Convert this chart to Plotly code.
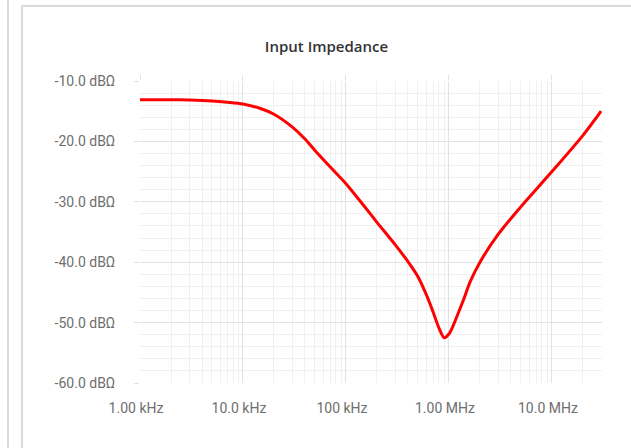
import plotly.graph_objects as go

# Input impedance magnitude vs frequency
freq_hz = [1e3, 2e3, 3e3, 5e3, 7e3, 1e4, 1.5e4, 2e4, 3e4, 4e4, 5e4, 7e4,
           1e5, 1.5e5, 2e5, 3e5, 4e5, 5e5, 6e5, 7e5, 8e5, 9e5, 1e6, 1.1e6,
           1.2e6, 1.4e6, 1.6e6, 2e6, 3e6, 5e6, 1e7, 2e7, 3e7]
impedance_db = [-13.1, -13.1, -13.15, -13.3, -13.5, -13.8, -14.6, -15.5, -17.6, -19.6,
                -21.5, -24.2, -27.0, -30.7, -33.4, -37.1, -39.9, -42.4, -45.3, -48.2,
                -50.9, -52.5, -51.9, -50.5, -48.9, -46.0, -43.3, -40.0, -35.4, -30.8,
                -25.0, -19.0, -15.0]

x_tick_vals = [1e3, 1e4, 1e5, 1e6, 1e7]
x_tick_text = ["1.00 kHz", "10.0 kHz", "100 kHz", "1.00 MHz", "10.0 MHz"]
y_tick_vals = [-10, -20, -30, -40, -50, -60]
y_tick_text = [f"{v:.1f} dBΩ" for v in y_tick_vals]

W, H = 631, 448
L, R, T, B = 140, 29, 81, 65
X_RANGE = [3, 7.486]
Y_RANGE = [-60, -10]

x_minor = [m * 10 ** d for d in range(3, 8) for m in range(2, 10) if m * 10 ** d < 10 ** X_RANGE[1]]
y_minor = list(range(-60, -9, 2))

MAJOR_GRID = "#e2e2e2"
MINOR_GRID = "#f0f0f0"
TICK_FONT = dict(family="Roboto, sans-serif", size=14, color="#6e6e6e")

fig = go.Figure()
fig.add_trace(go.Scatter(
    x=freq_hz, y=impedance_db, mode="lines",
    line=dict(color="#ff0000", width=3, shape="spline", smoothing=0.8),
    hoverinfo="x+y", showlegend=False,
))
# invisible trace that carries the top axis (major tick stubs above the plot)
fig.add_trace(go.Scatter(x=[freq_hz[0]], y=[impedance_db[0]], xaxis="x2",
                         mode="markers", marker=dict(opacity=0), showlegend=False,
                         hoverinfo="skip"))


def px_x(px):
    return (px - L) / (W - L - R)


def px_y(py):
    return 1 - (py - T) / (H - T - B)


frame_color = "#dadada"
fig.update_layout(
    width=W, height=H,
    margin=dict(l=L, r=R, t=T, b=B, pad=0),
    paper_bgcolor="white", plot_bgcolor="white",
    title=dict(text="Input Impedance", x=326.5 / W, xref="container", xanchor="center",
               y=1 - 46.5 / H, yref="container", yanchor="middle",
               font=dict(family="Open Sans, sans-serif", size=15, color="#333333", weight=600)),
    xaxis=dict(
        type="log", range=X_RANGE,
        tickvals=x_tick_vals, ticktext=x_tick_text,
        showgrid=True, gridcolor=MAJOR_GRID, gridwidth=1,
        ticks="", showline=False, zeroline=False,
        tickfont=TICK_FONT, ticklabelstandoff=15, ticklabelshift=-4,
        minor=dict(tickmode="array", tickvals=x_minor, showgrid=True,
                   gridcolor=MINOR_GRID, gridwidth=1, ticks=""),
    ),
    xaxis2=dict(
        type="log", range=X_RANGE, overlaying="x", side="top",
        tickvals=x_tick_vals, showticklabels=False,
        ticks="outside", ticklen=5, tickcolor=MAJOR_GRID, tickwidth=1,
        showgrid=False, showline=False, zeroline=False,
    ),
    yaxis=dict(
        range=Y_RANGE, tickvals=y_tick_vals, ticktext=y_tick_text,
        showgrid=True, gridcolor=MAJOR_GRID, gridwidth=1,
        ticks="outside", ticklen=5, tickcolor=MAJOR_GRID, tickwidth=1,
        showline=False, zeroline=False,
        tickfont=TICK_FONT, ticklabelstandoff=16,
        minor=dict(tickmode="array", tickvals=y_minor, showgrid=True,
                   gridcolor=MINOR_GRID, gridwidth=1, ticks=""),
    ),
    shapes=[
        # sidebar edge on the far left
        dict(type="line", xref="paper", yref="paper", x0=px_x(8), x1=px_x(8),
             y0=px_y(0), y1=px_y(H), line=dict(color=frame_color, width=2), layer="below"),
        # card border: left and top edges
        dict(type="line", xref="paper", yref="paper", x0=px_x(22), x1=px_x(22),
             y0=px_y(6), y1=px_y(H), line=dict(color=frame_color, width=2), layer="below"),
        dict(type="line", xref="paper", yref="paper", x0=px_x(21), x1=px_x(W),
             y0=px_y(6), y1=px_y(6), line=dict(color=frame_color, width=2), layer="below"),
    ],
)

fig.write_html("out.html")
